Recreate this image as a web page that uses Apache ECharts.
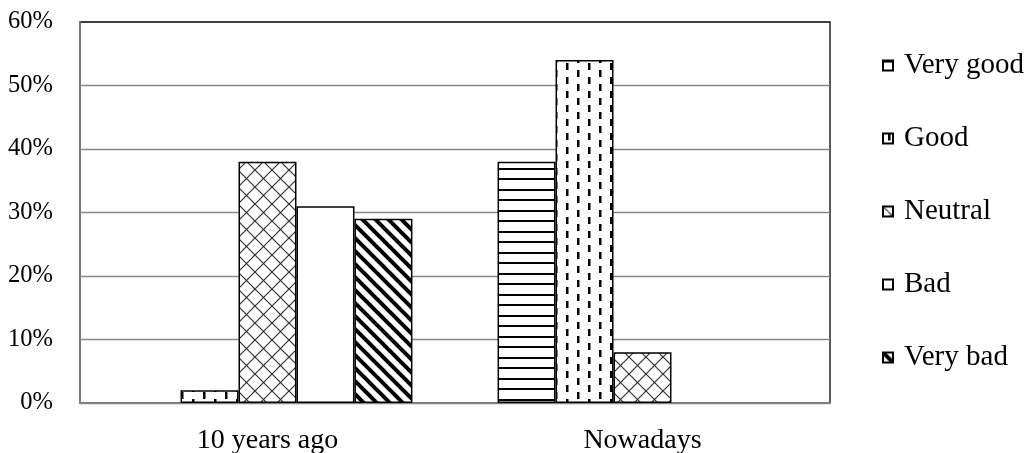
<!DOCTYPE html>
<html>
<head>
<meta charset="utf-8">
<script src="https://cdn.jsdelivr.net/npm/echarts@6/dist/echarts.min.js"></script>
<style>html,body{margin:0;padding:0;background:#fff}#c{width:1029px;height:453px}</style>
</head>
<body>
<div id="c"></div>
<script>
const categories = ['10 years ago', 'Nowadays'];
const seriesNames = ['Very good', 'Good', 'Neutral', 'Bad', 'Very bad'];
const veryGood = [0, 38];
const good = [2, 54];
const neutral = [38, 8];
const bad = [31, 0];
const veryBad = [29, 0];
const yTickMin = 0, yTickMax = 60, yTickStep = 10;

function makePattern(w, h, draw) {
  const c = document.createElement('canvas');
  c.width = w; c.height = h;
  const ctx = c.getContext('2d');
  ctx.fillStyle = '#fff';
  ctx.fillRect(0, 0, w, h);
  draw(ctx, w, h);
  return { image: c, repeat: 'repeat' };
}
const patHoriz = makePattern(4, 21, (ctx) => {
  ctx.fillStyle = '#000';
  ctx.fillRect(0, 0, 4, 2);
  ctx.fillRect(0, 10, 4, 2);
});
const patDash = makePattern(22, 14, (ctx) => {
  ctx.fillStyle = '#000';
  ctx.fillRect(5, 0, 2.5, 7);
  ctx.fillRect(16, 7, 2.5, 7);
});
const patCross = makePattern(17, 17, (ctx, w, h) => {
  ctx.strokeStyle = '#333';
  ctx.lineWidth = 1.2;
  for (let k = -1; k <= 1; k++) {
    ctx.beginPath(); ctx.moveTo(k * w, 0); ctx.lineTo(k * w + w, h); ctx.stroke();
    ctx.beginPath(); ctx.moveTo(k * w + w, 0); ctx.lineTo(k * w, h); ctx.stroke();
  }
});
const patDiag = makePattern(13, 13, (ctx, w, h) => {
  ctx.strokeStyle = '#000';
  ctx.lineWidth = 4;
  for (let k = -1; k <= 1; k++) {
    ctx.beginPath(); ctx.moveTo(k * w - 2, -2); ctx.lineTo(k * w + w + 2, h + 2); ctx.stroke();
  }
});
const fills = [patHoriz, patDash, patCross, '#ffffff', patDiag];
const values = [veryGood, good, neutral, bad, veryBad];

const FONT = '"Liberation Serif", "Times New Roman", serif';
const chart = echarts.init(document.getElementById('c'), null, { renderer: 'canvas' });
chart.setOption({
  animation: false,
  backgroundColor: '#fff',
  grid: { left: 80, right: 199, top: 22, bottom: 50, show: true, borderColor: '#000', borderWidth: 1.3, containLabel: false, outerBoundsMode: 'none' },
  legend: {
    orient: 'vertical', left: 877, top: 46, itemGap: 44,
    itemWidth: 10, itemHeight: 10, icon: 'rect',
    textStyle: { fontFamily: FONT, fontSize: 29, color: '#000', padding: [0, 0, 0, 6] },
    data: seriesNames
  },
  xAxis: {
    type: 'category', data: categories,
    axisLine: { lineStyle: { color: '#868686', width: 1.5 } },
    axisTick: { show: false },
    axisLabel: { fontFamily: FONT, fontSize: 28, color: '#000', margin: 24 }
  },
  yAxis: {
    type: 'value', min: yTickMin, max: yTickMax, interval: yTickStep,
    axisLine: { show: true, lineStyle: { color: '#868686', width: 1.5 } },
    axisTick: { show: false },
    splitLine: { showMaxLine: false, lineStyle: { color: '#868686', width: 1.3 } },
    axisLabel: { fontFamily: FONT, fontSize: 24.5, color: '#000', formatter: '{value}%', margin: 27 }
  },
  series: seriesNames.map((name, i) => ({
    name, type: 'bar', barGap: 0, barCategoryGap: '22.7%',
    data: values[i].map(v => v === 0 ? '-' : v),
    itemStyle: { color: fills[i], borderColor: '#000', borderWidth: 1.5 }
  }))
});
</script>
</body>
</html>
